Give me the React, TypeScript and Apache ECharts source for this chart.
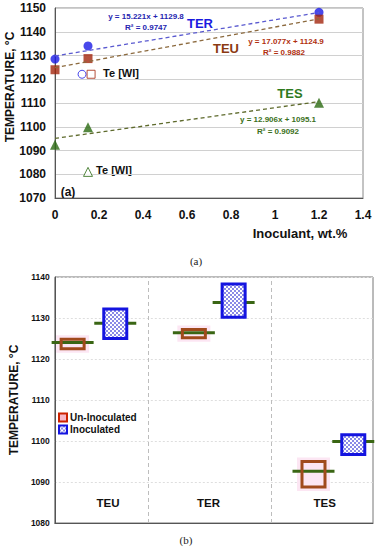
import React, { useEffect, useRef } from "react";
import * as echarts from "echarts";

const FONT = "'Liberation Sans', Arial, sans-serif";
const NARROW = "'Liberation Sans Narrow', 'Arial Narrow', 'Liberation Sans', sans-serif";

// ---------- Chart (a): temperature vs inoculant ----------
const terPoints = [[0, 1128.5], [0.15, 1134], [1.2, 1148.2]];
const teuPoints = [[0, 1124], [0.15, 1128.7], [1.2, 1145.3]];
const tesPoints = [[0, 1092.4], [0.15, 1099.8], [1.2, 1110.1]];
const terTrend = [[0, 1129.8], [1.2, 1148.1]];
const teuTrend = [[0, 1124.9], [1.2, 1145.4]];
const tesTrend = [[0, 1095.1], [1.2, 1110.6]];
const teWiCircle = [[0.123, 1122.1]];
const teWiSquare = [[0.164, 1122.1]];
const teWiTriangle = [[0.15, 1081]];
const axisA = { xMin: 0, xMax: 1.4, xStep: 0.2, yMin: 1070, yMax: 1150, yStep: 10 };

// ---------- Chart (b): box comparison ----------
const groups = ["TEU", "TER", "TES"];
const groupPos = [16.7, 48.3, 84.8];
const groupLabelY = 1084.9;
const separators = [29.4, 68.1];
const unPos = [5.6, 43.7, 81.3];
const unLow = [1122.5, 1125.2, 1088.8];
const unMed = [1124.0, 1126.4, 1092.6];
const unHigh = [1124.8, 1127.2, 1095.0];
const inPos = [19.0, 56.2, 93.8];
const inLow = [1125.0, 1130.2, 1096.7];
const inMed = [1128.7, 1133.8, 1099.9];
const inHigh = [1132.2, 1138.3, 1101.5];
const axisB = { yMin: 1080, yMax: 1140, yStep: 10 };

function makeChecker() {
  const c = document.createElement("canvas");
  c.width = 4;
  c.height = 4;
  const ctx = c.getContext("2d")!;
  ctx.fillStyle = "#ffffff";
  ctx.fillRect(0, 0, 4, 4);
  ctx.fillStyle = "#8a8ae6";
  ctx.fillRect(0, 0, 2, 2);
  ctx.fillRect(2, 2, 2, 2);
  return { image: c, repeat: "repeat", imageWidth: 4, imageHeight: 4 } as any;
}

export default function App() {
  const ref = useRef<HTMLDivElement>(null);
  useEffect(() => {
    if (!ref.current) return;
    const chart = echarts.init(ref.current, undefined, { renderer: "svg" });
    const checker = makeChecker();
    const unColor = "#a04a1c";
    const inColor = "#1414e0";
    const medColor = "#3a6614";
    const plain = (v: number) => String(v);

    const boxRender = (isIn: boolean) => (params: any, api: any) => {
      const x = api.value(0);
      const pLo = api.coord([x, api.value(1)]);
      const pMed = api.coord([x, api.value(2)]);
      const pHi = api.coord([x, api.value(3)]);
      const w = 23;
      const half = 21;
      const children: any[] = [];
      if (!isIn) {
        children.push({
          type: "rect",
          shape: { x: pHi[0] - w / 2 - 5, y: pHi[1] - 4, width: w + 10, height: pLo[1] - pHi[1] + 8 },
          style: { fill: "#fce6f3" },
        });
      }
      children.push({
        type: "line",
        shape: { x1: pMed[0] - half, y1: pMed[1], x2: pMed[0] + half, y2: pMed[1] },
        style: { stroke: medColor, lineWidth: 3 },
      });
      children.push({
        type: "rect",
        shape: { x: pHi[0] - w / 2, y: pHi[1], width: w, height: pLo[1] - pHi[1] },
        style: { fill: isIn ? checker : "none", stroke: isIn ? inColor : unColor, lineWidth: 3 },
      });
      return { type: "group", children };
    };

    const txt = (text: string, x: number, y: number, size: number, color: string, extra: any = {}) => ({
      type: "text",
      x,
      y,
      silent: true,
      style: {
        text,
        fill: color,
        font: `bold ${size}px ${FONT}`,
        textAlign: "center",
        textVerticalAlign: "middle",
        ...extra,
      },
    });

    const graphics: any[] = [
      { ...txt("TEMPERATURE, °C", 10, 87, 12, "#111"), rotation: Math.PI / 2 },
      txt("Inoculant, wt.%", 300, 233, 13, "#111"),
      txt("(a)", 68, 192, 12, "#111"),
      txt("TER", 200, 23, 13, "#1a1adf"),
      txt("TEU", 226, 48, 13, "#8b3a12"),
      txt("TES", 290, 93, 13, "#2e7a1e"),
      txt("y = 15.221x + 1129.8", 146, 16, 8, "#2424b0"),
      txt("R² = 0.9747", 146, 27, 8, "#2424b0"),
      txt("y = 17.077x + 1124.9", 286, 41, 8, "#b0300f"),
      txt("R² = 0.9882", 284, 52, 8, "#b0300f"),
      txt("y = 12.906x + 1095.1", 278, 119, 8, "#3a7020"),
      txt("R² = 0.9092", 278, 131, 8, "#3a7020"),
      txt("Te [WI]", 121, 73, 11, "#111"),
      txt("Te [WI]", 114, 170, 11, "#111"),
      {
        type: "text",
        x: 196,
        y: 261,
        silent: true,
        style: { text: "(a)", fill: "#222", font: "11px 'Liberation Serif', serif", textAlign: "center", textVerticalAlign: "middle" },
      },
      {
        type: "text",
        x: 186,
        y: 540,
        silent: true,
        style: { text: "(b)", fill: "#222", font: "11px 'Liberation Serif', serif", textAlign: "center", textVerticalAlign: "middle" },
      },
    ];

    chart.setOption({
      animation: false,
      backgroundColor: "#ffffff",
      textStyle: { fontFamily: FONT },
      grid: [
        { left: 55, top: 8, width: 308, height: 190, show: true, borderColor: "#888", borderWidth: 1, backgroundColor: "transparent" },
        { left: 50, top: 277, width: 323, height: 246, show: true, borderColor: "#777", borderWidth: 1, backgroundColor: "transparent" },
      ],
      legend: {
        orient: "vertical",
        left: 53,
        top: 407,
        itemWidth: 8,
        itemHeight: 8,
        itemGap: 1,
        textStyle: { fontFamily: NARROW, fontWeight: "bold", fontSize: 10, color: "#111", lineHeight: 11, padding: [0, 0, 0, -2] },
        data: [
          { name: "Un-Inoculated", icon: "rect", itemStyle: { color: "#f7b8c8", borderColor: "#cc2200", borderWidth: 2 } },
          { name: "Inoculated", icon: "rect", itemStyle: { color: checker, borderColor: inColor, borderWidth: 2 } },
        ],
      },
      xAxis: [
        {
          gridIndex: 0,
          type: "value",
          min: axisA.xMin,
          max: axisA.xMax,
          interval: axisA.xStep,
          axisLine: { show: true, lineStyle: { color: "#555" } },
          axisTick: { show: false },
          splitLine: { show: false },
          axisLabel: { color: "#111", fontWeight: "bold", fontSize: 12, margin: 11, fontFamily: FONT, formatter: plain },
        },
        {
          gridIndex: 1,
          type: "value",
          min: 0,
          max: 100,
          axisLine: { show: true, lineStyle: { color: "#555" } },
          axisTick: { show: false },
          splitLine: { show: false },
          axisLabel: { show: false },
        },
      ],
      yAxis: [
        {
          gridIndex: 0,
          type: "value",
          min: axisA.yMin,
          max: axisA.yMax,
          interval: axisA.yStep,
          axisLine: { show: true, lineStyle: { color: "#555" } },
          axisTick: { show: false },
          splitLine: { show: true, lineStyle: { color: "#d0d0d0", width: 1 } },
          axisLabel: { color: "#111", fontWeight: "bold", fontSize: 12, margin: 9, fontFamily: FONT, formatter: plain },
        },
        {
          gridIndex: 1,
          type: "value",
          min: axisB.yMin,
          max: axisB.yMax,
          interval: axisB.yStep,
          name: "TEMPERATURE, °C",
          nameLocation: "middle",
          nameGap: 34,
          nameRotate: 90,
          nameTextStyle: { color: "#111", fontWeight: "bold", fontSize: 12, fontFamily: FONT },
          axisLine: { show: true, lineStyle: { color: "#555" } },
          axisTick: { show: false },
          splitLine: { show: true, lineStyle: { color: "#dedede", type: [2, 2], width: 1 } },
          axisLabel: { color: "#111", fontWeight: "bold", fontSize: 8.5, margin: 5, fontFamily: FONT, formatter: plain },
        },
      ],
      series: [
        // trend lines (a)
        { type: "line", xAxisIndex: 0, yAxisIndex: 0, data: terTrend, symbol: "none", silent: true, lineStyle: { color: "#5a5ad0", width: 1.3, type: [4, 3] } },
        { type: "line", xAxisIndex: 0, yAxisIndex: 0, data: teuTrend, symbol: "none", silent: true, lineStyle: { color: "#8c6a3e", width: 1.3, type: [4, 3] } },
        { type: "line", xAxisIndex: 0, yAxisIndex: 0, data: tesTrend, symbol: "none", silent: true, lineStyle: { color: "#5e6a2c", width: 1.3, type: [4, 3] } },
        // points (a)
        { name: "TER", type: "scatter", xAxisIndex: 0, yAxisIndex: 0, data: terPoints, symbol: "circle", symbolSize: 9, itemStyle: { color: "#1a1ae6" } },
        { name: "TEU", type: "scatter", xAxisIndex: 0, yAxisIndex: 0, data: teuPoints, symbol: "rect", symbolSize: 9, itemStyle: { color: "#a3260c" } },
        { name: "TES", type: "scatter", xAxisIndex: 0, yAxisIndex: 0, data: tesPoints, symbol: "triangle", symbolSize: 10, itemStyle: { color: "#2b6a12" } },
        { name: "TeWI-R", type: "scatter", xAxisIndex: 0, yAxisIndex: 0, data: teWiCircle, symbol: "circle", symbolSize: 8, itemStyle: { color: "#fff", borderColor: "#1a1ae6", borderWidth: 1 } },
        { name: "TeWI-U", type: "scatter", xAxisIndex: 0, yAxisIndex: 0, data: teWiSquare, symbol: "rect", symbolSize: 8, itemStyle: { color: "#fff", borderColor: "#a3260c", borderWidth: 1 } },
        { name: "TeWI-S", type: "scatter", xAxisIndex: 0, yAxisIndex: 0, data: teWiTriangle, symbol: "triangle", symbolSize: 9, itemStyle: { color: "#fff", borderColor: "#2b6a12", borderWidth: 1 } },
        // (b) separators
        {
          type: "line",
          xAxisIndex: 1,
          yAxisIndex: 1,
          data: [],
          silent: true,
          markLine: {
            silent: true,
            symbol: "none",
            label: { show: false },
            lineStyle: { color: "#bdbdbd", type: [4, 3], width: 1 },
            data: separators.map((s) => ({ xAxis: s })),
          },
        },
        {
          name: "Un-Inoculated",
          type: "custom",
          xAxisIndex: 1,
          yAxisIndex: 1,
          itemStyle: { color: "#f7b8c8", borderColor: "#cc2200" },
          renderItem: boxRender(false),
          data: unPos.map((p, i) => [p, unLow[i], unMed[i], unHigh[i]]),
          encode: { x: 0, y: [1, 2, 3] },
          clip: false,
        },
        {
          name: "Inoculated",
          type: "custom",
          xAxisIndex: 1,
          yAxisIndex: 1,
          itemStyle: { color: "#8a8ae6", borderColor: inColor },
          renderItem: boxRender(true),
          data: inPos.map((p, i) => [p, inLow[i], inMed[i], inHigh[i]]),
          encode: { x: 0, y: [1, 2, 3] },
          clip: false,
        },
      ],
      graphic: graphics,
    });

    // group labels of (b), placed through the axes' scales
    const labelGraphics = groups.map((g, i) => {
      const p = chart.convertToPixel({ xAxisIndex: 1, yAxisIndex: 1 }, [groupPos[i], groupLabelY]) as number[];
      return txt(g, p[0], p[1], 11.5, "#111");
    });
    chart.setOption({ graphic: [...graphics, ...labelGraphics] });

    return () => chart.dispose();
  }, []);
  return <div ref={ref} style={{ position: "fixed", left: 0, top: 0, width: 378, height: 550 }} />;
}
